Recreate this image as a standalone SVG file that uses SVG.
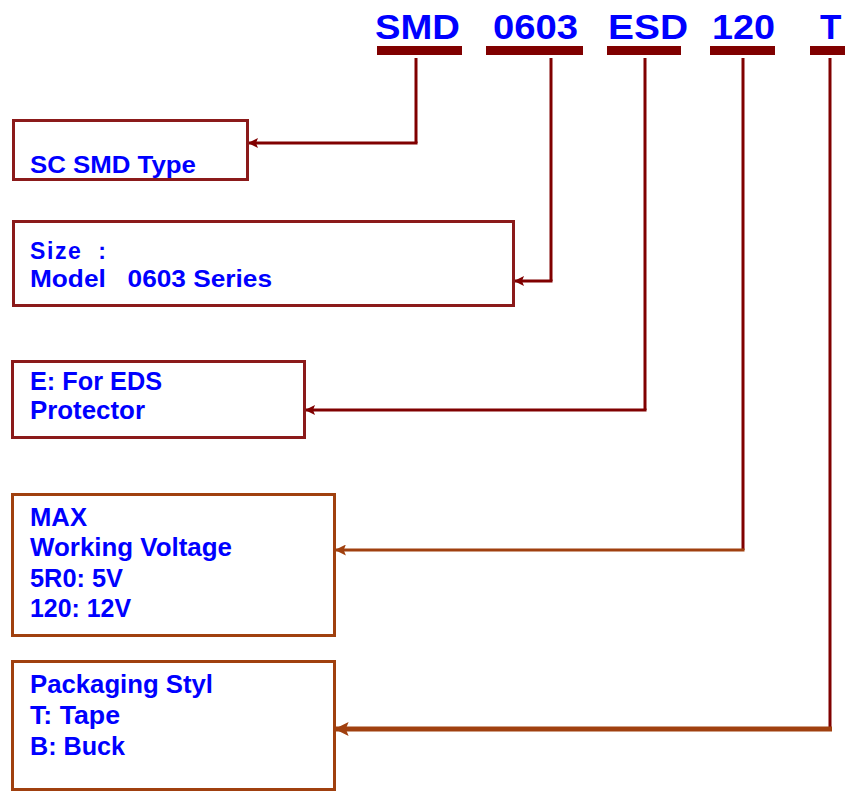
<svg xmlns="http://www.w3.org/2000/svg" width="845" height="792" viewBox="0 0 845 792">
<defs>
<style>
.hd{font-family:"Liberation Sans",Arial,sans-serif;font-weight:bold;font-size:35px;fill:#0000FF}
.t{font-family:"Liberation Sans",Arial,sans-serif;font-weight:bold;font-size:23px;fill:#0000FF}
.t2{font-family:"Liberation Sans",Arial,sans-serif;font-weight:bold;font-size:25px;fill:#0000FF}
.bar{fill:#800000}
.b1{fill:#fff;stroke:#8B1A1A;stroke-width:3}
.b2{fill:#fff;stroke:#A0400F;stroke-width:3}
.v{stroke:#800000;stroke-width:3;fill:none}
.h1{stroke:#800000;stroke-width:3;fill:none}
.h2{stroke:#A0400F;stroke-width:3;fill:none}
</style>
<marker id="a1" viewBox="0 0 10 10" refX="9" refY="5" markerWidth="11" markerHeight="10" orient="auto" markerUnits="userSpaceOnUse">
<path d="M0,0 L10,5 L0,10 L2,5 Z" fill="#800000"/>
</marker>
<marker id="a2" viewBox="0 0 10 10" refX="9" refY="5" markerWidth="12" markerHeight="11" orient="auto" markerUnits="userSpaceOnUse">
<path d="M0,0 L10,5 L0,10 L2,5 Z" fill="#A0400F"/>
</marker>
<marker id="a3" viewBox="0 0 10 10" refX="9" refY="5" markerWidth="14" markerHeight="14" orient="auto" markerUnits="userSpaceOnUse">
<path d="M0,0 L10,5 L0,10 L2,5 Z" fill="#A0400F"/>
</marker>
</defs>
<g id="header">
<text class="hd" x="375" y="39" textLength="85" lengthAdjust="spacingAndGlyphs">SMD</text>
<text class="hd" x="493" y="39" textLength="85" lengthAdjust="spacingAndGlyphs">0603</text>
<text class="hd" x="608" y="39" textLength="80" lengthAdjust="spacingAndGlyphs">ESD</text>
<text class="hd" x="712" y="39" textLength="63" lengthAdjust="spacingAndGlyphs">120</text>
<text class="hd" x="820" y="39">T</text>
<rect class="bar" x="377" y="46" width="85" height="9"/>
<rect class="bar" x="486" y="46" width="97" height="9"/>
<rect class="bar" x="607" y="46" width="74" height="9"/>
<rect class="bar" x="710" y="46" width="65" height="9"/>
<rect class="bar" x="810" y="46" width="40" height="9"/>
</g>
<g id="connectors">
<line class="v" x1="416" y1="58" x2="416" y2="143"/>
<line class="h1" x1="417.5" y1="143" x2="249" y2="143" marker-end="url(#a1)"/>
<line class="v" x1="551" y1="58" x2="551" y2="281"/>
<line class="h1" x1="552.5" y1="281" x2="515" y2="281" marker-end="url(#a1)"/>
<line class="v" x1="645" y1="58" x2="645" y2="410"/>
<line class="h1" x1="646.5" y1="410" x2="306" y2="410" marker-end="url(#a1)"/>
<line class="v" x1="743" y1="58" x2="743" y2="550"/>
<line class="h2" x1="744.5" y1="550" x2="336" y2="550" marker-end="url(#a2)"/>
<line class="v" x1="830" y1="58" x2="830" y2="729"/>
<line class="h2" x1="832" y1="729" x2="336" y2="729" style="stroke-width:5" marker-end="url(#a3)"/>
</g>
<g id="node-type">
<rect class="b1" x="13.5" y="120.5" width="234" height="59"/>
<text class="t" x="30" y="173" textLength="166" lengthAdjust="spacingAndGlyphs">SC SMD Type</text>
</g>
<g id="node-size">
<rect class="b1" x="13.5" y="221.5" width="500" height="84"/>
<text class="t" x="30" y="259" xml:space="preserve" textLength="76" lengthAdjust="spacing">Size  :</text>
<text class="t" x="30" y="287" xml:space="preserve" textLength="242" lengthAdjust="spacingAndGlyphs">Model   0603 Series</text>
</g>
<g id="node-esd">
<rect class="b1" x="12.5" y="361.5" width="292" height="76"/>
<text class="t2" x="30" y="390" textLength="132" lengthAdjust="spacingAndGlyphs">E: For EDS</text>
<text class="t2" x="30" y="419" textLength="115" lengthAdjust="spacingAndGlyphs">Protector</text>
</g>
<g id="node-voltage">
<rect class="b2" x="12.5" y="494.5" width="322" height="141"/>
<text class="t2" x="30" y="526" textLength="57" lengthAdjust="spacingAndGlyphs">MAX</text>
<text class="t2" x="30" y="556" textLength="202" lengthAdjust="spacingAndGlyphs">Working Voltage</text>
<text class="t2" x="30" y="587" textLength="93" lengthAdjust="spacingAndGlyphs">5R0: 5V</text>
<text class="t2" x="30" y="617" textLength="101" lengthAdjust="spacingAndGlyphs">120: 12V</text>
</g>
<g id="node-packaging">
<rect class="b2" x="12.5" y="661.5" width="322" height="128"/>
<text class="t2" x="30" y="693" textLength="183" lengthAdjust="spacingAndGlyphs">Packaging Styl</text>
<text class="t2" x="30" y="724" textLength="90" lengthAdjust="spacingAndGlyphs">T: Tape</text>
<text class="t2" x="30" y="755" textLength="95" lengthAdjust="spacingAndGlyphs">B: Buck</text>
</g>
</svg>
